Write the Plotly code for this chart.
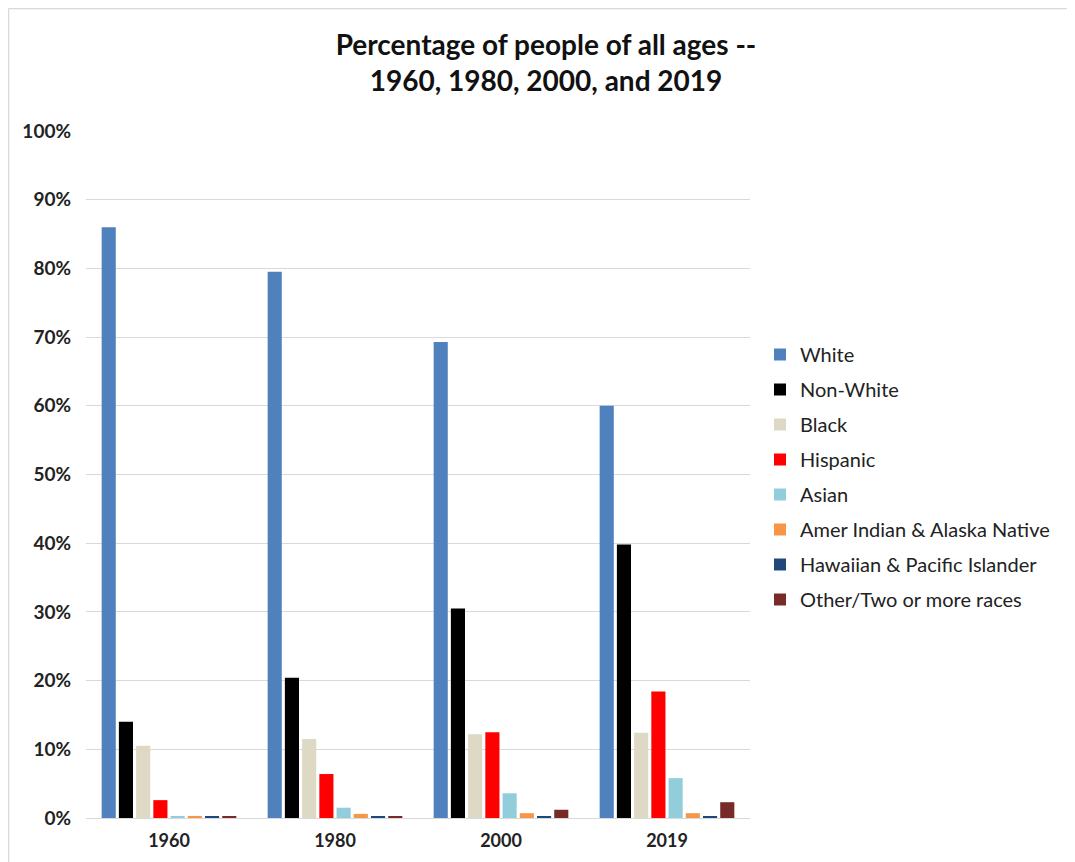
import plotly.graph_objects as go

years = ["1960", "1980", "2000", "2019"]
series_names = ["White", "Non-White", "Black", "Hispanic", "Asian",
                "Amer Indian & Alaska Native", "Hawaiian & Pacific Islander",
                "Other/Two or more races"]
white = [86.0, 79.5, 69.3, 60.0]
non_white = [14.0, 20.4, 30.5, 39.8]
black = [10.5, 11.5, 12.2, 12.4]
hispanic = [2.6, 6.4, 12.5, 18.4]
asian = [0.3, 1.5, 3.6, 5.8]
amer_indian = [0.3, 0.6, 0.7, 0.7]
hawaiian = [0.2, 0.2, 0.2, 0.2]
other = [0.2, 0.2, 1.2, 2.3]
series_values = [white, non_white, black, hispanic, asian, amer_indian, hawaiian, other]
colors = ["#4F81BD", "#000000", "#DDD9C4", "#FF0000", "#92CDDC",
          "#F79646", "#1F497D", "#772C2A"]

font_family = "Lato, 'Open Sans', sans-serif"

W, H = 1067, 854
L, R, T, B = 78, 325, 123, 44
PW = W - L - R
PH = H - T - B

fig = go.Figure()
for i, (name, vals, col) in enumerate(zip(series_names, series_values, colors)):
    fig.add_trace(go.Bar(
        x=years, y=vals, name=name, legendgroup=f"g{i}",
        marker=dict(color=col, line=dict(width=0)),
    ))

fig.update_layout(
    width=W, height=H,
    paper_bgcolor="white", plot_bgcolor="white",
    margin=dict(l=L, r=R, t=T, b=B),
    barmode="group", bargap=0.17, bargroupgap=0.18,
    font=dict(family=font_family, color="#333333"),
    title=dict(
        text="<b>Percentage of people of all ages --<br>1960, 1980, 2000, and 2019</b>",
        x=538 / W, xanchor="center", y=1 - 47 / H, yanchor="top",
        font=dict(size=28, color="#111111", family=font_family),
        pad=dict(t=0),
    ),
    legend=dict(
        x=(752 - L) / PW, xanchor="left", y=(T + PH - 327) / PH, yanchor="top",
        font=dict(size=20, color="#222222", family=font_family),
        traceorder="grouped", tracegroupgap=6,
        itemwidth=30,
    ),
    showlegend=True,
)
fig.update_yaxes(
    range=[0, 100], dtick=10,
    showgrid=True, gridcolor="#D9D9D9", gridwidth=1,
    zeroline=False, showline=False,
    tickfont=dict(size=19, color="#222222", family=font_family),
    tickprefix="<b>", ticksuffix="%</b>",
    ticklabelstandoff=14,
)
fig.update_xaxes(
    showline=True, linecolor="#D9D9D9", linewidth=1,
    tickfont=dict(size=18, color="#222222", family=font_family),
    tickprefix="<b>", ticksuffix="</b>",
    ticks="", ticklabelstandoff=6,
)

# chart frame (top and left edges)
x_left = (0.5 - L) / PW
y_top = (T + PH - 0.5) / PH
fig.add_shape(type="line", xref="paper", yref="paper",
              x0=x_left, x1=(W - L) / PW, y0=y_top, y1=y_top,
              line=dict(color="#D9D9D9", width=1.5), layer="below")
fig.add_shape(type="line", xref="paper", yref="paper",
              x0=x_left, x1=x_left, y0=-B / PH, y1=y_top,
              line=dict(color="#D9D9D9", width=1.5), layer="below")

fig.write_html("out.html")
